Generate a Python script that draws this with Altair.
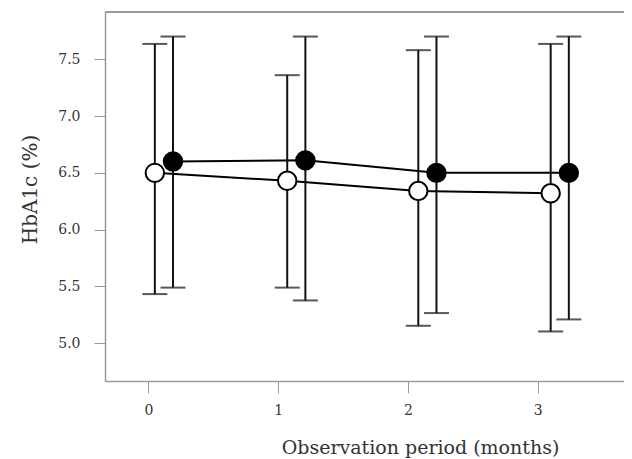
import altair as alt
import pandas as pd

months = [0, 1, 2, 3]
open_x = [0.05, 1.07, 2.08, 3.10]
open_mean = [6.50, 6.43, 6.34, 6.32]
open_upper = [7.635, 7.36, 7.58, 7.635]
open_lower = [5.433, 5.49, 5.154, 5.104]
filled_x = [0.19, 1.21, 2.22, 3.24]
filled_mean = [6.60, 6.61, 6.50, 6.50]
filled_upper = [7.70, 7.70, 7.70, 7.70]
filled_lower = [5.49, 5.377, 5.266, 5.21]
y_ticks = [5.0, 5.5, 6.0, 6.5, 7.0, 7.5]

rows = []
for i in range(len(months)):
    rows.append(dict(group="open", x=open_x[i], mean=open_mean[i], lo=open_lower[i], hi=open_upper[i]))
    rows.append(dict(group="filled", x=filled_x[i], mean=filled_mean[i], lo=filled_lower[i], hi=filled_upper[i]))
df = pd.DataFrame(rows)

FONT = "DejaVu Serif"
W, H = 519, 369
xs = alt.Scale(domain=[-0.334, 3.665], nice=False, zero=False)
ys = alt.Scale(domain=[4.668, 7.916], nice=False, zero=False)

xenc = alt.X("x:Q", scale=xs, axis=alt.Axis(
    values=months, format="d", title="Observation period (months)",
    grid=False, domainColor="#9a9a9a", domainWidth=1.5, tickColor="#9a9a9a",
    tickSize=12, labelPadding=10, labelFontSize=14, labelColor="#333",
    labelFont=FONT, titleFont=FONT, titleFontSize=19,
    titleFontWeight="normal", titleColor="#333", titleX=315, titleY=72,
    titleBaseline="alphabetic"))
yenc = alt.Y("mean:Q", scale=ys, axis=alt.Axis(
    values=y_ticks, format=".1f", title="HbA1c (%)",
    grid=False, domainColor="#9a9a9a", domainWidth=1.5, tickColor="#9a9a9a",
    tickSize=11, labelPadding=14, labelFontSize=14, labelColor="#333",
    labelFont=FONT, titleFont=FONT, titleFontSize=20,
    titleFontWeight="normal", titleColor="#333", titleX=-69, titleY=177,
    titleBaseline="alphabetic"))

base = alt.Chart(df)

top_line = base.mark_rule(color="#9a9a9a", strokeWidth=1.5).encode(
    x=alt.value(0), x2=alt.value(W + 10), y=alt.value(0))

lines = base.mark_line(color="black", strokeWidth=2).encode(
    x=xenc, y=yenc, detail="group:N")

bars = base.mark_rule(color="#111", strokeWidth=2).encode(
    x=alt.X("x:Q", scale=xs), y=alt.Y("lo:Q", scale=ys), y2="hi:Q")
cap_lo = base.mark_tick(color="#111", thickness=2, size=25, orient="horizontal").encode(
    x=alt.X("x:Q", scale=xs), y=alt.Y("lo:Q", scale=ys))
cap_hi = base.mark_tick(color="#111", thickness=2, size=25, orient="horizontal").encode(
    x=alt.X("x:Q", scale=xs), y=alt.Y("hi:Q", scale=ys))

pts = base.mark_point(filled=True, size=340, strokeWidth=2, opacity=1, stroke="black").encode(
    x=alt.X("x:Q", scale=xs), y=alt.Y("mean:Q", scale=ys),
    fill=alt.Fill("group:N", scale=alt.Scale(domain=["open", "filled"], range=["white", "black"]), legend=None),
    shape=alt.value("circle"))

chart = alt.layer(lines, bars, cap_lo, cap_hi, pts, top_line).properties(
    width=W, height=H,
    autosize=alt.AutoSizeParams(type="none"),
    padding={"left": 97, "top": 4, "right": 0, "bottom": 80},
).configure_view(stroke=None).configure(background="white")

chart.save("out.html", embed_options={"renderer": "svg", "actions": False})
